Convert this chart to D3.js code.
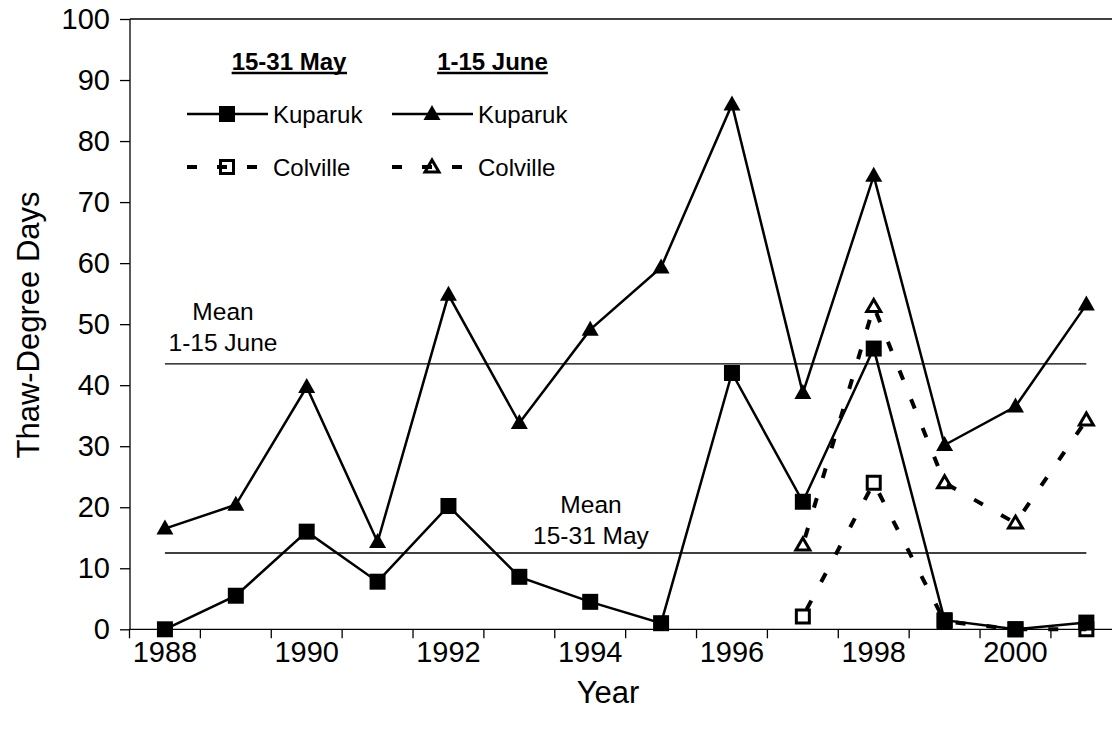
<!DOCTYPE html>
<meta charset="utf-8">
<title>Thaw-Degree Days</title>
<script src="https://d3js.org/d3.v7.min.js"></script>
<style>
  body { margin: 0; background: #fff; }
  text { font-family: "Liberation Sans", Arial, sans-serif; fill: #000; }
</style>
<div id="chart"></div>
<script>

    // data
    var years = [1988, 1989, 1990, 1991, 1992, 1993, 1994, 1995, 1996, 1997, 1998, 1999, 2000, 2001];
    var kupMay  = [0, 5.5, 16.0, 7.8, 20.2, 8.6, 4.5, 1.0, 42.0, 20.9, 46.0, 1.5, 0, 1.1];
    var kupJune = [16.5, 20.4, 39.7, 14.3, 54.8, 33.8, 49.1, 59.3, 86.0, 38.7, 74.3, 30.2, 36.5, 53.2];
    var colYears = [1997, 1998, 1999, 2000, 2001];
    var colMay  = [2.1, 24.0, 1.3, 0, 0];
    var colJune = [13.8, 52.9, 24.0, 17.4, 34.3];
    var meanMay = 12.5, meanJune = 43.5;
    var yTicks = [0, 10, 20, 30, 40, 50, 60, 70, 80, 90, 100];
    var xLabels = [1988, 1990, 1992, 1994, 1996, 1998, 2000];

    var W = 1112, H = 733;
    var svg = d3.select("#chart").append("svg")
        .attr("width", W)
        .attr("height", H);

    // category axis, points sit in the middle of each band
    var x = d3.scaleBand()
        .domain(years)
        .range([129.5, 1121.8])
        .padding(0);
    var y = d3.scaleLinear()
        .domain([0, 100])
        .range([629.3, 19]);
    function cx(d) { return x(d) + x.bandwidth() / 2; }

    // y axis
    var yAxis = svg.append("g")
        .attr("transform", "translate(130,0)")
        .call(d3.axisLeft(y).tickValues(yTicks).tickSize(10).tickPadding(10).tickFormat(d3.format("d")));
    yAxis.select(".domain").attr("d", "M0," + y(100) + "V" + y(0)).attr("stroke-width", 1.3);
    yAxis.selectAll(".tick line").attr("stroke-width", 1.3);
    yAxis.selectAll("text").style("font-size", "29px").attr("fill", "#000");

    // x axis with ticks between categories
    var xg = svg.append("g").attr("transform", "translate(0," + y(0) + ")");
    xg.append("line")
        .attr("x1", 129.5).attr("x2", 1121.8)
        .attr("stroke", "#000").attr("stroke-width", 1.3);
    xg.selectAll(".xt")
        .data(years)
        .enter().append("line")
        .attr("x1", function(d) { return x(d); })
        .attr("x2", function(d) { return x(d); })
        .attr("y1", 0).attr("y2", 9)
        .attr("stroke", "#000").attr("stroke-width", 1.3);
    xg.selectAll(".xl")
        .data(xLabels)
        .enter().append("text")
        .attr("x", function(d) { return cx(d); })
        .attr("y", 33)
        .attr("text-anchor", "middle")
        .style("font-size", "29px")
        .text(function(d) { return d; });

    // top border of plot area
    svg.append("line")
        .attr("x1", 130).attr("x2", 1121.8)
        .attr("y1", y(100)).attr("y2", y(100))
        .attr("stroke", "#000").attr("stroke-width", 1.3);

    // axis titles
    svg.append("text")
        .attr("x", 608).attr("y", 703)
        .attr("text-anchor", "middle")
        .style("font-size", "31px")
        .text("Year");
    svg.append("text")
        .attr("transform", "translate(39,325) rotate(-90)")
        .attr("text-anchor", "middle")
        .style("font-size", "31px")
        .text("Thaw-Degree Days");

    // mean lines
    [meanMay, meanJune].forEach(function(m) {
        svg.append("line")
            .attr("x1", cx(1988)).attr("x2", cx(2001))
            .attr("y1", y(m)).attr("y2", y(m))
            .attr("stroke", "#000").attr("stroke-width", 1.3);
    });
    svg.append("text").attr("x", 223).attr("y", 320).attr("text-anchor", "middle")
        .style("font-size", "24.5px").text("Mean");
    svg.append("text").attr("x", 223).attr("y", 351).attr("text-anchor", "middle")
        .style("font-size", "24.5px").text("1-15 June");
    svg.append("text").attr("x", 591).attr("y", 513).attr("text-anchor", "middle")
        .style("font-size", "24.5px").text("Mean");
    svg.append("text").attr("x", 591).attr("y", 544).attr("text-anchor", "middle")
        .style("font-size", "24.5px").text("15-31 May");

    // marker shapes
    var sq = "M-8,-8H8V8H-8Z";
    var sqOpen = "M-6.5,-6.5H6.5V6.5H-6.5Z";
    var tri = "M0,-9L8.5,6L-8.5,6Z";
    var triOpen = "M0,-7L7,5L-7,5Z";

    var line = d3.line()
        .x(function(d) { return cx(d[0]); })
        .y(function(d) { return y(d[1]); });

    function series(xs, vals, dashed, shape, open) {
        var pts = xs.map(function(d, i) { return [d, vals[i]]; });
        svg.append("path")
            .datum(pts)
            .attr("d", line)
            .attr("fill", "none")
            .attr("stroke", "#000")
            .attr("stroke-width", dashed ? 4 : 2.5)
            .attr("stroke-dasharray", dashed ? "10,21" : null)
            .attr("stroke-dashoffset", dashed ? -8 : 0);
        svg.selectAll(null)
            .data(pts)
            .enter().append("path")
            .attr("d", shape)
            .attr("transform", function(d) { return "translate(" + cx(d[0]) + "," + y(d[1]) + ")"; })
            .attr("fill", open ? "none" : "#000")
            .attr("stroke", "#000")
            .attr("stroke-width", open ? 3 : 0);
    }

    series(colYears, colMay, true, sqOpen, true);
    series(colYears, colJune, true, triOpen, true);
    series(years, kupMay, false, sq, false);
    series(years, kupJune, false, tri, false);

    // legend
    var hdr = [["15-31 May", 289], ["1-15 June", 492.5]];
    hdr.forEach(function(h) {
        var t = svg.append("text")
            .attr("x", h[1]).attr("y", 70)
            .attr("text-anchor", "middle")
            .style("font-size", "24px")
            .style("font-weight", "bold")
            .text(h[0]);
        var bb = t.node().getBBox();
        svg.append("line")
            .attr("x1", bb.x).attr("x2", bb.x + bb.width)
            .attr("y1", 73).attr("y2", 73)
            .attr("stroke", "#000").attr("stroke-width", 2.5);
    });

    var legendRows = [
        {x0: 187, y0: 114, dashed: false, shape: sq, open: false, label: "Kuparuk"},
        {x0: 392, y0: 114, dashed: false, shape: tri, open: false, label: "Kuparuk"},
        {x0: 187, y0: 167, dashed: true, shape: sqOpen, open: true, label: "Colville"},
        {x0: 392, y0: 167, dashed: true, shape: triOpen, open: true, label: "Colville"}
    ];
    legendRows.forEach(function(r) {
        svg.append("line")
            .attr("x1", r.x0).attr("x2", r.x0 + 81)
            .attr("y1", r.y0).attr("y2", r.y0)
            .attr("stroke", "#000")
            .attr("stroke-width", r.dashed ? 4 : 2.5)
            .attr("stroke-dasharray", r.dashed ? "10,20" : null);
        svg.append("path")
            .attr("d", r.shape)
            .attr("transform", "translate(" + (r.x0 + 40) + "," + r.y0 + ")")
            .attr("fill", r.open ? "none" : "#000")
            .attr("stroke", "#000")
            .attr("stroke-width", r.open ? 3 : 0);
        svg.append("text")
            .attr("x", r.x0 + 86).attr("y", r.y0 + 9)
            .style("font-size", "24px")
            .text(r.label);
    });

</script>
